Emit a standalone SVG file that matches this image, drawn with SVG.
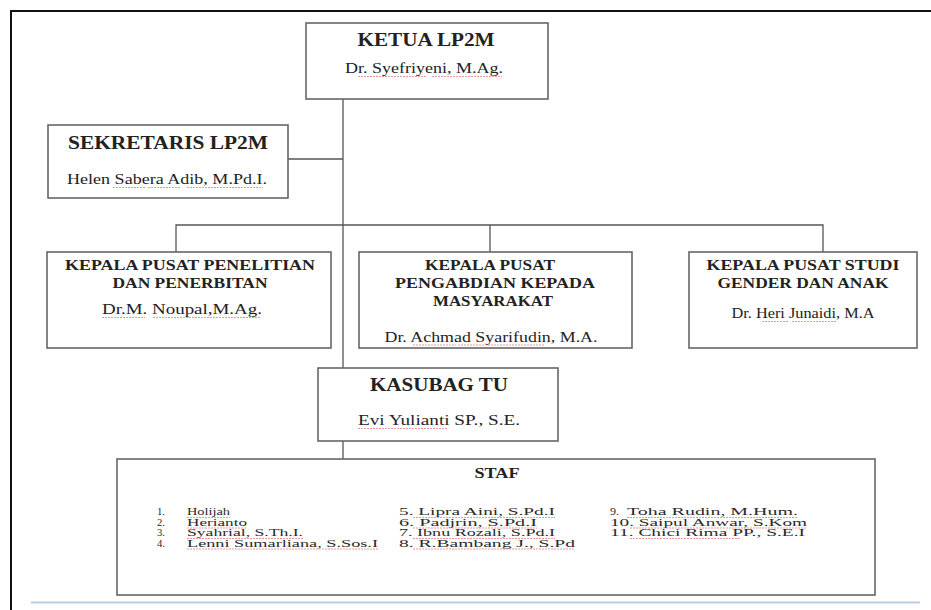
<svg xmlns="http://www.w3.org/2000/svg" width="931" height="610" viewBox="0 0 931 610">
<style>
.box{fill:#fff;stroke:#666;stroke-width:1.6}
.conn{fill:none;stroke:#555;stroke-width:1.3}
.t{font-family:"Liberation Serif","Times New Roman",serif;fill:#222;text-anchor:middle}
.tb{font-weight:bold;font-size:18px}
.th{font-weight:bold;font-size:14px}
.tn{font-size:14px}
.tl{font-family:"Liberation Serif","Times New Roman",serif;fill:#2a2a2a;font-size:11px}
.sq{fill:none;stroke:#e79a9a;stroke-width:1;stroke-dasharray:2 1}
</style>
<rect width="931" height="610" fill="#fff"/>
<g id="frame">
<path d="M11 610 V11 H931" fill="none" stroke="#111" stroke-width="2"/>
<line x1="31" y1="602.5" x2="920" y2="602.5" stroke="#b9cce6" stroke-width="2"/>
</g>
<g id="connectors">
<path class="conn" d="M343 99 V459"/>
<path class="conn" d="M288 159 H343"/>
<path class="conn" d="M176 252 V225 H823 V252"/>
<path class="conn" d="M490 225 V252"/>
</g>
<g id="ketua">
<rect class="box" x="306" y="23" width="242" height="76"/>
<text class="t tb" x="426" y="46" textLength="137" lengthAdjust="spacingAndGlyphs">KETUA LP2M</text>
<text class="t tn" x="424" y="73" textLength="158" lengthAdjust="spacingAndGlyphs">Dr. Syefriyeni, M.Ag.</text>
<path class="sq" d="M358 76.5 H427 M432 76.5 H502"/>
</g>
<g id="sekretaris">
<rect class="box" x="48" y="125" width="240" height="73"/>
<text class="t tb" x="168" y="149" textLength="200" lengthAdjust="spacingAndGlyphs">SEKRETARIS LP2M</text>
<text class="t tn" x="167" y="184" textLength="200" lengthAdjust="spacingAndGlyphs">Helen Sabera Adib, M.Pd.I.</text>
<path class="sq" d="M113 187.5 H145 M148 187.5 H180 M187 187.5 H263"/>
</g>
<g id="penelitian">
<rect class="box" x="47" y="252" width="284" height="96"/>
<text class="t th" x="190" y="270" textLength="250" lengthAdjust="spacingAndGlyphs">KEPALA PUSAT PENELITIAN</text>
<text class="t th" x="190" y="288" textLength="155" lengthAdjust="spacingAndGlyphs">DAN PENERBITAN</text>
<text class="t tn" x="182" y="314" textLength="160" lengthAdjust="spacingAndGlyphs">Dr.M. Noupal,M.Ag.</text>
<path class="sq" d="M102 317.5 H145 M153 317.5 H260"/>
</g>
<g id="pengabdian">
<rect class="box" x="359" y="252" width="273" height="96"/>
<text class="t th" x="490" y="270" textLength="130" lengthAdjust="spacingAndGlyphs">KEPALA PUSAT</text>
<text class="t th" x="495" y="288" textLength="200" lengthAdjust="spacingAndGlyphs">PENGABDIAN KEPADA</text>
<text class="t th" x="493" y="306" textLength="120" lengthAdjust="spacingAndGlyphs">MASYARAKAT</text>
<text class="t tn" x="491" y="342" textLength="213" lengthAdjust="spacingAndGlyphs">Dr. Achmad Syarifudin, M.A.</text>
<path class="sq" d="M413 345 H456 M458 345 H545"/>
</g>
<g id="gender">
<rect class="box" x="689" y="252" width="228" height="96"/>
<text class="t th" x="803" y="270" textLength="193" lengthAdjust="spacingAndGlyphs">KEPALA PUSAT STUDI</text>
<text class="t th" x="803" y="288" textLength="171" lengthAdjust="spacingAndGlyphs">GENDER DAN ANAK</text>
<text class="t tn" x="803" y="318" textLength="143" lengthAdjust="spacingAndGlyphs">Dr. Heri Junaidi, M.A</text>
<path class="sq" d="M762 321.5 H788 M792 321.5 H837"/>
</g>
<g id="kasubag">
<rect class="box" x="318" y="368" width="240" height="73"/>
<text class="t tb" x="439" y="391" textLength="138" lengthAdjust="spacingAndGlyphs">KASUBAG TU</text>
<text class="t tn" x="439" y="425" textLength="162" lengthAdjust="spacingAndGlyphs">Evi Yulianti SP., S.E.</text>
<path class="sq" d="M358 428.5 H447"/>
</g>
<g id="staf">
<rect class="box" x="117" y="459" width="758" height="136"/>
<text class="t th" x="497" y="478" textLength="45" lengthAdjust="spacingAndGlyphs">STAF</text>
<text class="tl" x="157" y="515" textLength="8" lengthAdjust="spacingAndGlyphs">1.</text>
<text class="tl" x="157" y="525.5" textLength="8" lengthAdjust="spacingAndGlyphs">2.</text>
<text class="tl" x="157" y="536" textLength="8" lengthAdjust="spacingAndGlyphs">3.</text>
<text class="tl" x="157" y="546.5" textLength="8" lengthAdjust="spacingAndGlyphs">4.</text>
<text class="tl" x="187" y="515" textLength="43" lengthAdjust="spacingAndGlyphs">Holijah</text>
<text class="tl" x="187" y="525.5" textLength="60" lengthAdjust="spacingAndGlyphs">Herianto</text>
<text class="tl" x="187" y="536" textLength="116" lengthAdjust="spacingAndGlyphs">Syahrial, S.Th.I.</text>
<text class="tl" x="187" y="546.5" textLength="191" lengthAdjust="spacingAndGlyphs">Lenni Sumarliana, S.Sos.I</text>
<text class="tl" x="399" y="515" textLength="156" lengthAdjust="spacingAndGlyphs">5. Lipra Aini, S.Pd.I</text>
<text class="tl" x="399" y="525.5" textLength="138" lengthAdjust="spacingAndGlyphs">6. Padjrin, S.Pd.I</text>
<text class="tl" x="399" y="536" textLength="156" lengthAdjust="spacingAndGlyphs">7. Ibnu Rozali, S.Pd.I</text>
<text class="tl" x="399" y="546.5" textLength="176" lengthAdjust="spacingAndGlyphs">8. R.Bambang J., S.Pd</text>
<text class="tl" x="610" y="515" textLength="9" lengthAdjust="spacingAndGlyphs">9.</text>
<text class="tl" x="627" y="515" textLength="171" lengthAdjust="spacingAndGlyphs">Toha Rudin, M.Hum.</text>
<text class="tl" x="610" y="525.5" textLength="197" lengthAdjust="spacingAndGlyphs">10. Saipul Anwar, S.Kom</text>
<text class="tl" x="610" y="536" textLength="195" lengthAdjust="spacingAndGlyphs">11. Chici Rima PP., S.E.I</text>
<path class="sq" d="M187 517.5 H230 M187 528 H247 M187 538.5 H303 M187 549 H378"/>
<path class="sq" d="M413 517.5 H555 M413 528 H537 M413 538.5 H555 M413 549 H575"/>
<path class="sq" d="M627 517.5 H798 M630 528 H807 M630 538.5 H740"/>
</g>
</svg>
